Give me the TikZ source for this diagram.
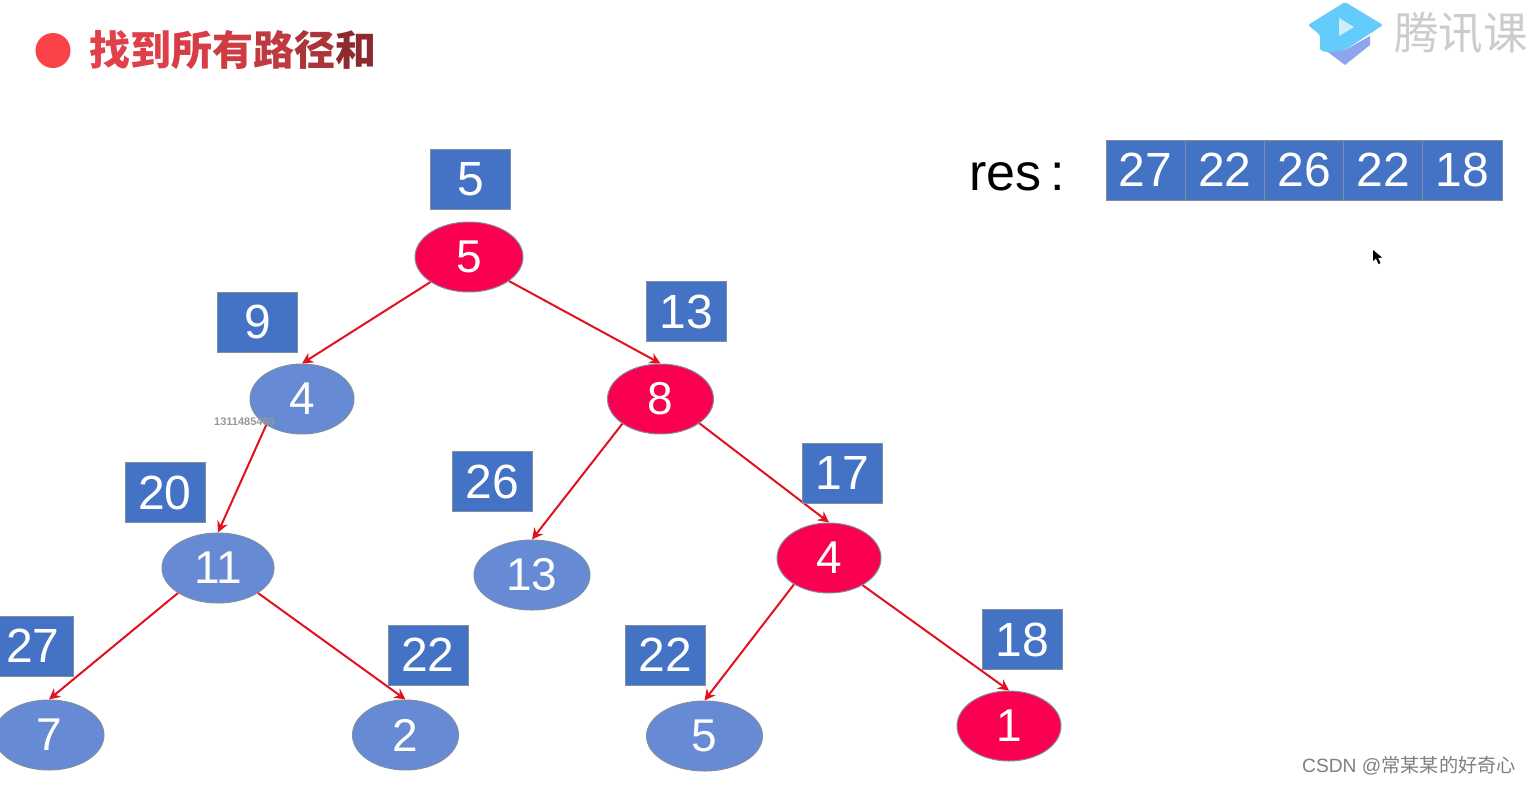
\documentclass[tikz,border=0pt]{standalone}
\usepackage{fontspec}
\setmainfont{Liberation Sans}
\newfontfamily\cjk{Noto Sans CJK SC}
\usetikzlibrary{shapes.geometric,arrows.meta}
\definecolor{boxblue}{HTML}{4472C4}
\definecolor{nodeblue}{HTML}{678AD5}
\definecolor{noderose}{HTML}{FA0050}
\definecolor{edgered}{HTML}{E3101E}
\definecolor{rimgrey}{HTML}{7F8FA0}
\definecolor{bulletred}{HTML}{FB4248}
\tikzset{
  tree node/.style={ellipse,inner sep=0pt,minimum height=70pt,draw=rimgrey,line width=1pt,
    text=white,font=\fontsize{46}{48}\selectfont},
  plain node/.style={tree node,fill=nodeblue},
  path node/.style={tree node,fill=noderose},
  sum box/.style={rectangle,inner sep=0pt,minimum width=80pt,minimum height=60pt,
    draw=rimgrey,line width=1pt,fill=boxblue,text=white,font=\fontsize{48}{50}\selectfont},
  res cell/.style={sum box,minimum width=79.2pt},
  tree edge/.style={draw=edgered,line width=2pt,-{Stealth[length=11pt,width=11pt]}}
}
\begin{document}
\begin{tikzpicture}[x=1pt,y=-1pt]
\useasboundingbox (0,0) rectangle (1529,785);
\clip (0,0) rectangle (1529,785);
\fill[white] (0,0) rectangle (1529,785);

% heading
\node[circle,fill=bulletred,minimum size=35pt,inner sep=0pt] (bullet) at (53,50.5) {};
\node[anchor=west,inner sep=0pt,font=\cjk\bfseries\fontsize{41}{43}\selectfont] (title) at (89,50)
  {\textcolor[HTML]{E0414A}{找}\textcolor[HTML]{DC4048}{到}\textcolor[HTML]{D63D45}{所}\textcolor[HTML]{CE3B42}{有}\textcolor[HTML]{BE3A40}{路}\textcolor[HTML]{AC3539}{径}\textcolor[HTML]{8E2A2E}{和}};

% logo
\fill[color={rgb,255:red,142;green,165;blue,238}] (1321,47) -- (1345,65) -- (1370,45) -- (1370,36) -- (1345,50) -- cycle;
\fill[color={rgb,255:red,100;green,204;blue,250},rounded corners=1.5pt] (1345,2) -- (1383,25) -- (1345,50) -- (1325,52) -- (1320,50) -- (1320,35) -- (1308,25) -- cycle;
\fill[color={rgb,255:red,205;green,238;blue,253}] (1339,18) -- (1339,36) -- (1354,27) -- cycle;
\node[anchor=west,inner sep=0pt,text=black!20,font=\cjk\fontsize{44.5}{47}\selectfont] (brand) at (1394,33) {腾讯课};

% tree nodes
\node[path node,minimum width=108pt]  (n5)  at (469,257) {5};
\node[plain node,minimum width=104pt] (n4)  at (302,399) {4};
\node[path node,minimum width=106pt]  (n8)  at (660.5,399) {8};
\node[plain node,minimum width=112pt] (n11) at (218,568) {11};
\node[plain node,minimum width=116pt] (n13) at (532,575) {13};
\node[path node,minimum width=104pt]  (m4)  at (829,558) {4};
\node[plain node,minimum width=110pt] (n7)  at (49,735) {7};
\node[plain node,minimum width=106pt] (n2)  at (405.5,735) {2};
\node[plain node,minimum width=116pt] (m5)  at (704.5,736) {5};
\node[path node,minimum width=104pt]  (n1)  at (1009,726) {1};

% tree edges
\draw[tree edge] (n5.213.7)  -- (n4.north);
\draw[tree edge] (n5.-31.6)  -- (n8.north);
\draw[tree edge] (n4.216.6)  -- (n11.north);
\draw[tree edge] (n8.213.7)  -- (n13.north);
\draw[tree edge] (n8.-32.3)  -- (m4.north);
\draw[tree edge] (n11.212)   -- (n7.north);
\draw[tree edge] (n11.-32)   -- (n2.north);
\draw[tree edge] (m4.217.4)  -- (m5.north);
\draw[tree edge] (m4.-39.3)  -- (n1.north);

% running sums beside each node
\node[sum box] (s5)  at (470.5,179.5) {5};
\node[sum box] (s9)  at (257.5,322)   {9};
\node[sum box] (s13) at (686.5,311.5) {13};
\node[sum box] (s20) at (165,492.5)   {20};
\node[sum box] (s26) at (492.5,481.5) {26};
\node[sum box] (s17) at (842,473)     {17};
\node[sum box] (s27) at (33,646)      {27};
\node[sum box] (s22) at (428,655)     {22};
\node[sum box] (t22) at (665.5,655)   {22};
\node[sum box] (s18) at (1022,639.5)  {18};

% result array
\node[anchor=base west,inner sep=0pt,font=\fontsize{52}{54}\selectfont] (reslabel) at (969,190) {res\,:};
\node[res cell] (r1) at (1145.6,170) {27};
\node[res cell] (r2) at (1224.8,170) {22};
\node[res cell] (r3) at (1304,170)   {26};
\node[res cell] (r4) at (1383.2,170) {22};
\node[res cell] (r5) at (1462.4,170) {18};

% pointer
\fill[black] (1373,250) -- (1373,261) -- (1376,258.5) -- (1378.5,264) -- (1380.5,263) -- (1378,258) -- (1382,257.5) -- cycle;

% overlaid captions
\node[anchor=west,inner sep=0pt,text=black!40,font=\bfseries\fontsize{11}{12}\selectfont] (mark) at (214,422) {1311485460};
\node[anchor=west,inner sep=0pt,text=black!50,font=\fontsize{19.2}{21}\selectfont] (credit) at (1302,766) {CSDN @{\cjk 常某某的好奇心}};
\end{tikzpicture}
\end{document}
